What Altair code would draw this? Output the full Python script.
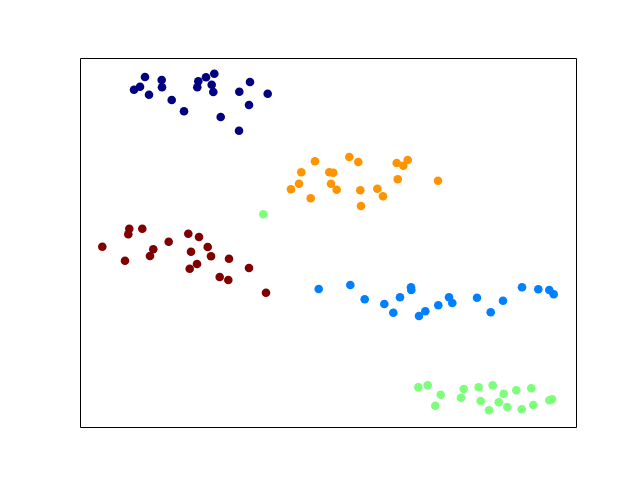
import altair as alt
import pandas as pd

# cluster labels (0..4 mapped onto jet colormap)
navy_x = [145, 161.7, 162, 134, 140, 149, 171.7, 184, 198.3, 197.3, 206, 214.3, 211.7, 213.3, 220.7, 239, 239.3, 250, 249, 267.7]
navy_y = [77, 80, 87.3, 89.7, 86.7, 94.7, 100, 111.3, 81.3, 87.3, 77.3, 73.7, 84.7, 92, 117, 130.7, 91.7, 82, 105, 93.7]

orange_x = [315, 301.3, 299, 291, 310.7, 329.3, 333.3, 331, 336.7, 349.3, 358.3, 360.3, 361, 377.3, 383, 396.7, 403.3, 407.7, 397.7, 438]
orange_y = [161.3, 172.3, 183.7, 189.3, 198.3, 172.3, 172.7, 183.7, 189.7, 157, 162, 190.3, 206, 188.7, 196.3, 163, 165.7, 160, 179.3, 180.7]

red_x = [102.3, 125, 129.3, 128.3, 142.3, 153.3, 150, 168.7, 188.3, 199, 191, 207.7, 211, 197, 189.7, 229, 219.7, 228.3, 249, 266]
red_y = [246.7, 260.7, 228.7, 234.3, 228.7, 249.3, 256, 241.7, 233.7, 237, 251.7, 247, 256.3, 264, 268.7, 258.7, 277, 280, 268, 292.7]

blue_x = [318.7, 350.3, 364.7, 384.3, 393.3, 400, 411, 411.3, 419, 425.3, 438.3, 449, 452.3, 477, 490.7, 503, 522, 538.3, 549.3, 553.7]
blue_y = [289, 285, 299.3, 304, 312.7, 297.3, 287.3, 290, 316, 311.3, 305.3, 297.3, 303, 297.7, 312.3, 300.7, 287.3, 289.3, 290, 294.3]

green_x = [263.3, 418.3, 427.7, 440.7, 435.3, 463.7, 461, 478.7, 492.7, 480.7, 503.7, 498.7, 489, 507.3, 516.3, 521.7, 531.3, 533.3, 549.3, 552]
green_y = [214.3, 387.3, 385.3, 394.7, 405.7, 389, 397.7, 387.3, 385.3, 401, 393.7, 402.3, 410.3, 407, 390.3, 409.3, 388.3, 405, 400.3, 399.3]

clusters = ["c0", "c1", "c2", "c3", "c4"]
colors = ["#000080", "#0080ff", "#7dff7a", "#ff9400", "#800000"]

rows = []
for lab, xs, ys in [("c0", navy_x, navy_y), ("c3", orange_x, orange_y), ("c4", red_x, red_y),
                    ("c1", blue_x, blue_y), ("c2", green_x, green_y)]:
    for a, b in zip(xs, ys):
        rows.append({"x": a, "y": b, "cluster": lab})
df = pd.DataFrame(rows)

chart = alt.Chart(df).mark_circle(size=74, opacity=1).encode(
    x=alt.X("x:Q", scale=alt.Scale(domain=[80, 576], nice=False, zero=False), axis=None),
    y=alt.Y("y:Q", scale=alt.Scale(domain=[58, 427], nice=False, zero=False, reverse=True), axis=None),
    color=alt.Color("cluster:N", scale=alt.Scale(domain=clusters, range=colors), legend=None),
).properties(
    width=496, height=369,
    autosize=alt.AutoSizeParams(type="none"),
    padding={"left": 72, "top": 50, "right": 56, "bottom": 45},
).configure_view(stroke="black", strokeWidth=1)

chart.save("out.html", embed_options={"renderer": "svg", "actions": False})
